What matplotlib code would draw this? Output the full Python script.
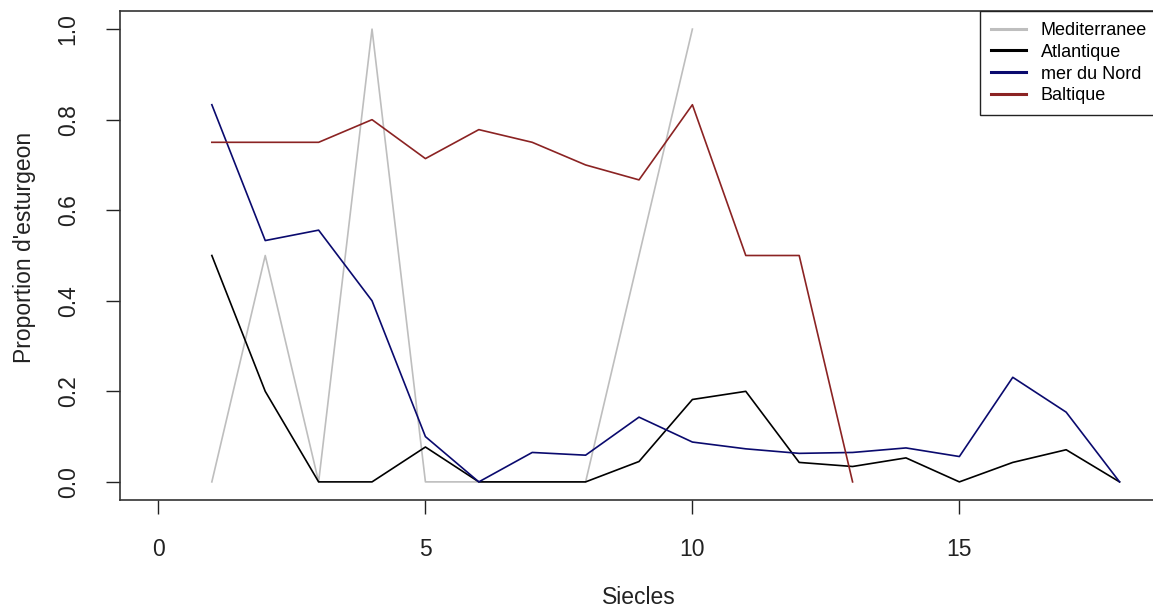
import numpy as np
import matplotlib
matplotlib.use("Agg")
import matplotlib.pyplot as plt

plt.rcParams['font.family'] = ['Liberation Sans', 'DejaVu Sans']

siecles = list(range(1, 19))
nan = np.nan
mediterranee = [0, 0.5, 0, 1.0, 0, 0, 0, 0, 0.5, 1.0, nan, nan, nan, nan, nan, nan, nan, nan]
atlantique = [0.5, 0.2, 0, 0, 0.077, 0, 0, 0, 0.045, 0.182, 0.2, 0.043, 0.034, 0.053, 0, 0.043, 0.071, 0]
mer_du_nord = [0.833, 0.533, 0.556, 0.4, 0.1, 0, 0.065, 0.059, 0.143, 0.088, 0.073, 0.063, 0.065, 0.075, 0.056, 0.231, 0.154, 0]
baltique = [0.75, 0.75, 0.75, 0.8, 0.714, 0.778, 0.75, 0.7, 0.667, 0.833, 0.5, 0.5, 0, nan, nan, nan, nan, nan]

series = [
    ("Mediterranee", mediterranee, "#BEBEBE"),
    ("Atlantique", atlantique, "#000000"),
    ("mer du Nord", mer_du_nord, "#0A0A6E"),
    ("Baltique", baltique, "#8B2323"),
]

W, H = 1153, 612
fig = plt.figure(figsize=(W / 100, H / 100), dpi=100)
left, right, top, bottom = 120, 1158, 11, 500
aw, ah = right - left, bottom - top
ax = fig.add_axes([left / W, (H - bottom) / H, aw / W, ah / H])

for name, vals, col in series:
    ax.plot(siecles, vals, color=col, lw=1.2, label=name)

ax.set_xlim(-0.72, 18.72)
ax.set_ylim(-0.04, 1.04)
ax.set_xticks([0, 5, 10, 15])
ax.set_yticks([0.0, 0.2, 0.4, 0.6, 0.8, 1.0])
ax.set_yticklabels(["0.0", "0.2", "0.4", "0.6", "0.8", "1.0"], rotation=90, va="center")
ax.tick_params(direction="out", length=10, width=1.0, labelsize=16.5, colors="#222222")
ax.tick_params(axis="x", pad=17)
ax.tick_params(axis="y", pad=19)
for s in ax.spines.values():
    s.set_linewidth(1.2)
    s.set_color("#333333")

ax.set_xlabel("Siecles", fontsize=16.5, color="#222222", va="center")
ax.xaxis.set_label_coords((639 - left) / aw, -(597 - bottom) / ah)
ax.set_ylabel("Proportion d'esturgeon", fontsize=16.5, color="#222222", va="center")
ax.yaxis.set_label_coords(-(left - 25) / aw, (bottom - 247) / ah)

leg = ax.legend(loc="upper right", bbox_to_anchor=(1, 1), borderaxespad=0,
                fancybox=False, edgecolor="#222222", framealpha=1, fontsize=13,
                handlelength=1.9, handletextpad=0.85, labelspacing=0.27,
                borderpad=0.6)
leg.get_frame().set_linewidth(1.0)
for line in leg.get_lines():
    line.set_linewidth(2.2)

fig.savefig("out.png", dpi=100, facecolor="white")
